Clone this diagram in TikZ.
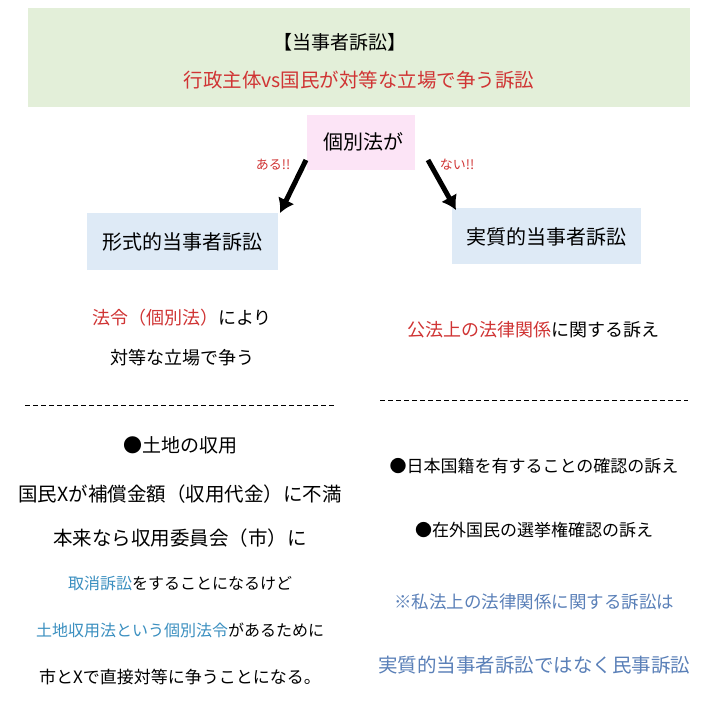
\documentclass[tikz,border=0pt]{standalone}
\usepackage{fontspec}
\setmainfont{Noto Sans CJK JP}
\definecolor{hdr}{HTML}{E3EFD9}
\definecolor{pinkb}{HTML}{FCE4F6}
\definecolor{blueb}{HTML}{DEEAF6}
\definecolor{redt}{HTML}{D03434}
\definecolor{bluet}{HTML}{3A8FC0}
\definecolor{slatet}{HTML}{5A80B8}
\usetikzlibrary{arrows.meta}
\tikzset{txt/.style={inner sep=0,anchor=center},
 fs/.style={txt,font=\fontsize{#1}{#1}\selectfont},
 arr/.style={line width=5pt,-{Latex[length=14pt,width=18pt]}},
 dash line/.style={dash pattern=on 5pt off 3pt,line width=0.8pt}}
\begin{document}
\begin{tikzpicture}[x=1pt,y=-1pt]
\useasboundingbox (0,0) rectangle (720,720);
\fill[white] (0,0) rectangle (720,720);
\fill[hdr] (28,8) rectangle (690,107);
\node[fs=19] (h1) at (340,42) {【当事者訴訟】};
\node[fs=19.5,text=redt] (h2) at (359,80) {行政主体vs国民が対等な立場で争う訴訟};
\fill[pinkb] (307,115) rectangle (415,170);
\node[fs=20] (ko) at (363,142) {個別法が};
\fill[blueb] (87,213) rectangle (278,270);
\node[fs=20] (kei) at (182,242) {形式的当事者訴訟};
\fill[blueb] (452,208) rectangle (641,264);
\node[fs=20] (jis) at (546,237) {実質的当事者訴訟};
\coordinate (a1) at (306,160); \coordinate (a2) at (280,213);
\coordinate (b1) at (428,160); \coordinate (b2) at (456,210);
\draw[arr] (a1) -- (a2);
\draw[arr] (b1) -- (b2);
\node[fs=13,text=redt] (aru) at (273,165) {ある!!};
\node[fs=13,text=redt] (nai) at (457,165) {ない!!};
\node[fs=18] (l1) at (182,318) {\textcolor{redt}{法令（個別法）}により};
\node[fs=18] (l2) at (182,358) {対等な立場で争う};
\node[fs=18] (r1) at (533,330) {\textcolor{redt}{公法上の法律関係}に関する訴え};
\coordinate (d1) at (25,405); \coordinate (d2) at (335,405);
\coordinate (d3) at (380,400); \coordinate (d4) at (688,400);
\draw[dash line] (d1) -- (d2);
\draw[dash line] (d3) -- (d4);
\node[fs=19] (p1) at (180,445) {●土地の収用};
\node[fs=19.5] (p2) at (180,494) {国民Xが補償金額（収用代金）に不満};
\node[fs=19.5] (p3) at (180,538) {本来なら収用委員会（市）に};
\node[fs=16] (p4) at (180,583) {\textcolor{bluet}{取消訴訟}をすることになるけど};
\node[fs=16] (p5) at (180,630) {\textcolor{bluet}{土地収用法という個別法令}があるために};
\node[fs=17] (p6) at (180,677) {市とXで直接対等に争うことになる。};
\node[fs=17] (q1) at (534,466) {●日本国籍を有することの確認の訴え};
\node[fs=17] (q2) at (534,530) {●在外国民の選挙権確認の訴え};
\node[fs=17.5,text=slatet] (q3) at (534,602) {※私法上の法律関係に関する訴訟は};
\node[fs=19.5,text=slatet] (q4) at (534,665) {実質的当事者訴訟ではなく民事訴訟};
\end{tikzpicture}
\end{document}
